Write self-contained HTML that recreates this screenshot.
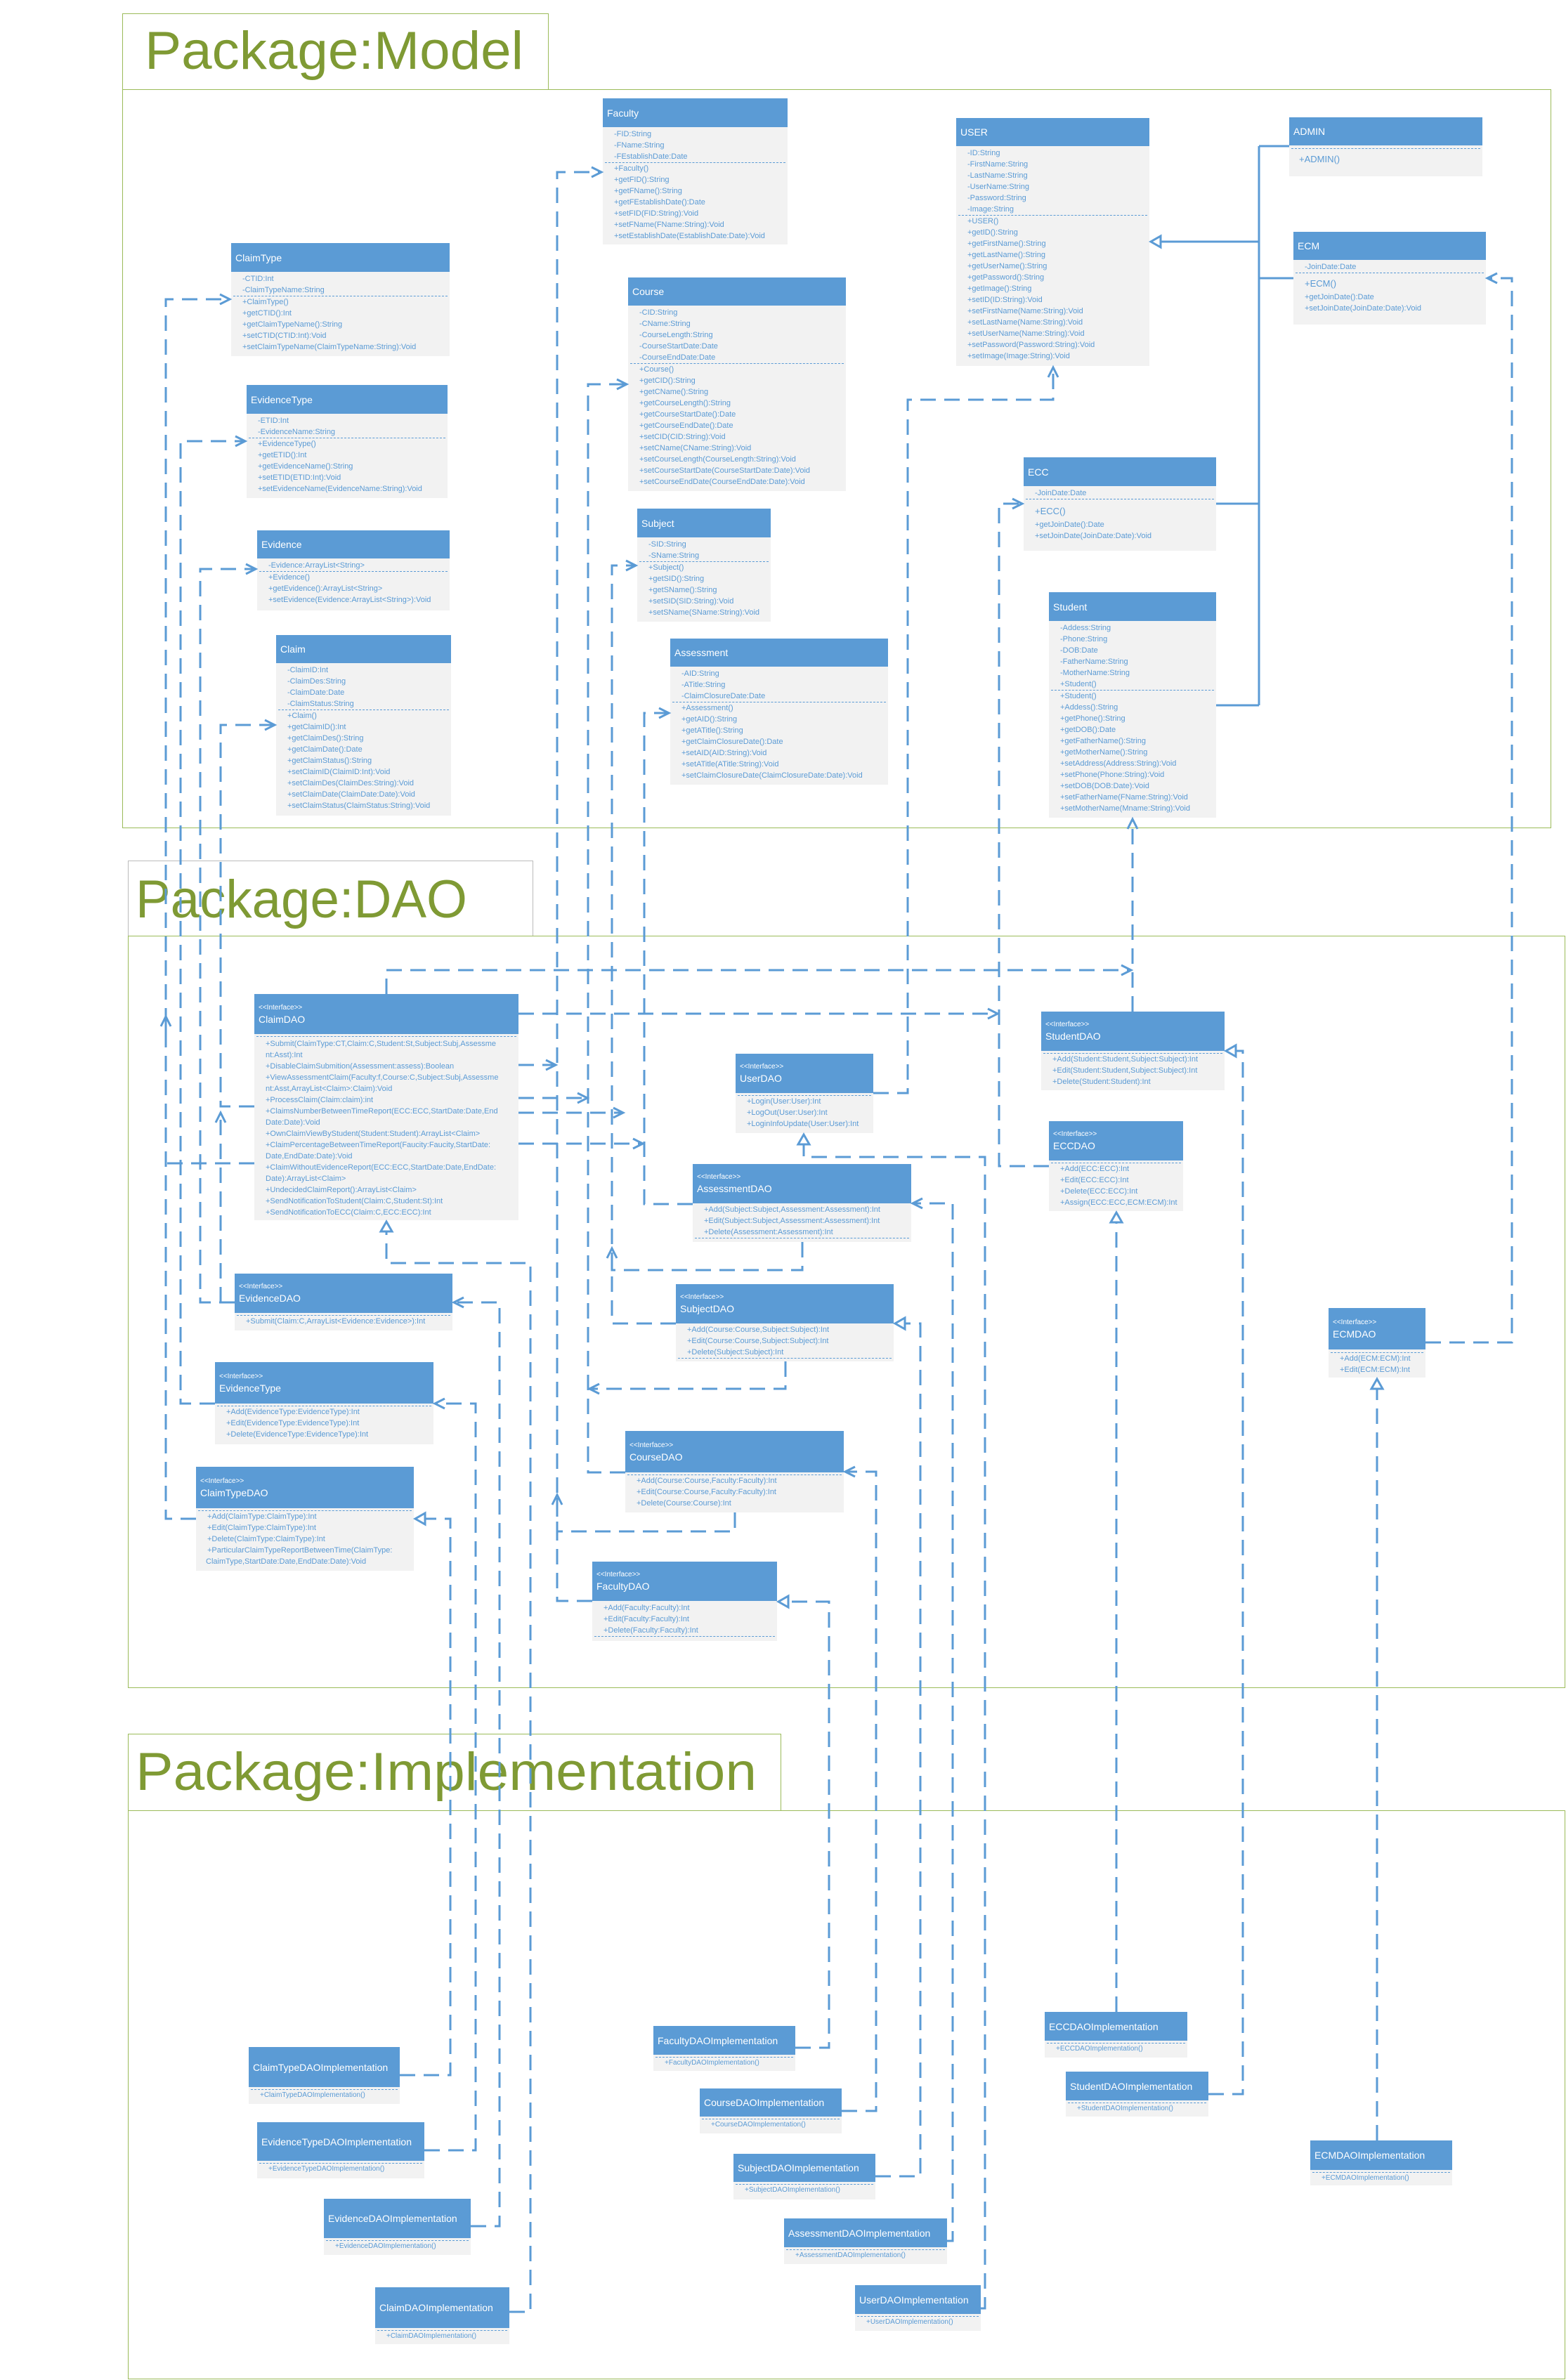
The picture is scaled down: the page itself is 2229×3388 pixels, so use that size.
<!DOCTYPE html>
<html><head><meta charset="utf-8">
<style>
html,body{margin:0;padding:0;background:#fff;}
body{width:2229px;height:3388px;position:relative;overflow:hidden;font-family:"Liberation Sans",sans-serif;}
.pk{position:absolute;border:1.5px solid #9BBB59;box-sizing:border-box;}
.c{position:absolute;background:#F2F2F2;color:#5B9BD5;font-size:11px;box-sizing:border-box;overflow:hidden;}
.h{background:#5B9BD5;color:#fff;font-size:14px;padding:0 6px;box-sizing:border-box;display:flex;flex-direction:column;justify-content:center;}
.h small{font-size:10px;display:block;margin-bottom:3px;}
.b{padding:2px 0 0 0;line-height:16px;white-space:nowrap;}
.b div{padding-left:16px;}
.s{border-top:1px dashed #5B9BD5;margin:0 3px;}
svg{position:absolute;left:0;top:0;}
</style></head><body>

<!-- packages -->
<div class="pk" style="left:174px;top:19px;width:607px;height:109px;"></div>
<div class="pk" style="left:174px;top:127px;width:2034px;height:1052px;"></div>
<div class="pk" style="left:182px;top:1225px;width:577px;height:108px;border-color:#bbb;"></div>
<div class="pk" style="left:182px;top:1332px;width:2046px;height:1071px;"></div>
<div class="pk" style="left:182px;top:2468px;width:930px;height:110px;"></div>
<div class="pk" style="left:182px;top:2577px;width:2046px;height:810px;"></div>

<svg width="2229" height="3388" style="z-index:0">
<text x="206" y="98" font-family="Liberation Sans,sans-serif" font-size="76" fill="#7F9A34" textLength="539" lengthAdjust="spacingAndGlyphs">Package:Model</text>
<text x="193" y="1306" font-family="Liberation Sans,sans-serif" font-size="76" fill="#7F9A34" textLength="472" lengthAdjust="spacingAndGlyphs">Package:DAO</text>
<text x="193" y="2548" font-family="Liberation Sans,sans-serif" font-size="76" fill="#7F9A34" textLength="884" lengthAdjust="spacingAndGlyphs">Package:Implementation</text>
</svg>

<!-- MODEL -->
<div class="c" style="left:858px;top:140px;width:263px;height:208px;"><div class="h" style="height:41px;">Faculty</div><div class="b">
<div>-FID:String</div><div>-FName:String</div><div>-FEstablishDate:Date</div><div class="s"></div>
<div>+Faculty()</div><div>+getFID():String</div><div>+getFName():String</div><div>+getFEstablishDate():Date</div><div>+setFID(FID:String):Void</div><div>+setFName(FName:String):Void</div><div>+setEstablishDate(EstablishDate:Date):Void</div></div></div>

<div class="c" style="left:894px;top:395px;width:310px;height:304px;"><div class="h" style="height:40px;">Course</div><div class="b">
<div>-CID:String</div><div>-CName:String</div><div>-CourseLength:String</div><div>-CourseStartDate:Date</div><div>-CourseEndDate:Date</div><div class="s"></div>
<div>+Course()</div><div>+getCID():String</div><div>+getCName():String</div><div>+getCourseLength():String</div><div>+getCourseStartDate():Date</div><div>+getCourseEndDate():Date</div><div>+setCID(CID:String):Void</div><div>+setCName(CName:String):Void</div><div>+setCourseLength(CourseLength:String):Void</div><div>+setCourseStartDate(CourseStartDate:Date):Void</div><div>+setCourseEndDate(CourseEndDate:Date):Void</div></div></div>

<div class="c" style="left:907px;top:724px;width:190px;height:161px;"><div class="h" style="height:41px;">Subject</div><div class="b">
<div>-SID:String</div><div>-SName:String</div><div class="s"></div>
<div>+Subject()</div><div>+getSID():String</div><div>+getSName():String</div><div>+setSID(SID:String):Void</div><div>+setSName(SName:String):Void</div></div></div>

<div class="c" style="left:954px;top:909px;width:310px;height:208px;"><div class="h" style="height:40px;">Assessment</div><div class="b">
<div>-AID:String</div><div>-ATitle:String</div><div>-ClaimClosureDate:Date</div><div class="s"></div>
<div>+Assessment()</div><div>+getAID():String</div><div>+getATitle():String</div><div>+getClaimClosureDate():Date</div><div>+setAID(AID:String):Void</div><div>+setATitle(ATitle:String):Void</div><div>+setClaimClosureDate(ClaimClosureDate:Date):Void</div></div></div>

<div class="c" style="left:329px;top:346px;width:311px;height:161px;"><div class="h" style="height:41px;">ClaimType</div><div class="b">
<div>-CTID:Int</div><div>-ClaimTypeName:String</div><div class="s"></div>
<div>+ClaimType()</div><div>+getCTID():Int</div><div>+getClaimTypeName():String</div><div>+setCTID(CTID:Int):Void</div><div>+setClaimTypeName(ClaimTypeName:String):Void</div></div></div>

<div class="c" style="left:351px;top:548px;width:286px;height:161px;"><div class="h" style="height:41px;">EvidenceType</div><div class="b">
<div>-ETID:Int</div><div>-EvidenceName:String</div><div class="s"></div>
<div>+EvidenceType()</div><div>+getETID():Int</div><div>+getEvidenceName():String</div><div>+setETID(ETID:Int):Void</div><div>+setEvidenceName(EvidenceName:String):Void</div></div></div>

<div class="c" style="left:366px;top:755px;width:274px;height:114px;"><div class="h" style="height:40px;">Evidence</div><div class="b">
<div>-Evidence:ArrayList&lt;String&gt;</div><div class="s"></div>
<div>+Evidence()</div><div>+getEvidence():ArrayList&lt;String&gt;</div><div>+setEvidence(Evidence:ArrayList&lt;String&gt;):Void</div></div></div>

<div class="c" style="left:393px;top:904px;width:249px;height:257px;"><div class="h" style="height:40px;">Claim</div><div class="b">
<div>-ClaimID:Int</div><div>-ClaimDes:String</div><div>-ClaimDate:Date</div><div>-ClaimStatus:String</div><div class="s"></div>
<div>+Claim()</div><div>+getClaimID():Int</div><div>+getClaimDes():String</div><div>+getClaimDate():Date</div><div>+getClaimStatus():String</div><div>+setClaimID(ClaimID:Int):Void</div><div>+setClaimDes(ClaimDes:String):Void</div><div>+setClaimDate(ClaimDate:Date):Void</div><div>+setClaimStatus(ClaimStatus:String):Void</div></div></div>

<div class="c" style="left:1361px;top:168px;width:275px;height:353px;"><div class="h" style="height:40px;">USER</div><div class="b">
<div>-ID:String</div><div>-FirstName:String</div><div>-LastName:String</div><div>-UserName:String</div><div>-Password:String</div><div>-Image:String</div><div class="s"></div>
<div>+USER()</div><div>+getID():String</div><div>+getFirstName():String</div><div>+getLastName():String</div><div>+getUserName():String</div><div>+getPassword():String</div><div>+getImage():String</div><div>+setID(ID:String):Void</div><div>+setFirstName(Name:String):Void</div><div>+setLastName(Name:String):Void</div><div>+setUserName(Name:String):Void</div><div>+setPassword(Password:String):Void</div><div>+setImage(Image:String):Void</div></div></div>

<div class="c" style="left:1835px;top:167px;width:275px;height:84px;"><div class="h" style="height:40px;">ADMIN</div><div class="b" style="padding-top:4px;">
<div class="s"></div><div style="font-size:13px;line-height:30px;padding-left:14px;">+ADMIN()</div></div></div>

<div class="c" style="left:1841px;top:330px;width:274px;height:132px;"><div class="h" style="height:40px;">ECM</div><div class="b">
<div>-JoinDate:Date</div><div class="s"></div>
<div style="font-size:13px;line-height:22px;padding-top:4px;">+ECM()</div><div>+getJoinDate():Date</div><div>+setJoinDate(JoinDate:Date):Void</div></div></div>

<div class="c" style="left:1457px;top:651px;width:274px;height:133px;"><div class="h" style="height:41px;">ECC</div><div class="b">
<div>-JoinDate:Date</div><div class="s"></div>
<div style="font-size:13px;line-height:22px;padding-top:6px;">+ECC()</div><div>+getJoinDate():Date</div><div>+setJoinDate(JoinDate:Date):Void</div></div></div>

<div class="c" style="left:1493px;top:843px;width:238px;height:321px;"><div class="h" style="height:41px;">Student</div><div class="b">
<div>-Addess:String</div><div>-Phone:String</div><div>-DOB:Date</div><div>-FatherName:String</div><div>-MotherName:String</div><div>+Student()</div><div class="s"></div>
<div>+Student()</div><div>+Addess():String</div><div>+getPhone():String</div><div>+getDOB():Date</div><div>+getFatherName():String</div><div>+getMotherName():String</div><div>+setAddress(Address:String):Void</div><div>+setPhone(Phone:String):Void</div><div>+setDOB(DOB:Date):Void</div><div>+setFatherName(FName:String):Void</div><div>+setMotherName(Mname:String):Void</div></div></div>

<!-- DAO -->
<div class="c" style="left:362px;top:1415px;width:376px;height:322px;"><div class="h" style="height:57px;"><small>&lt;&lt;Interface&gt;&gt;</small>ClaimDAO</div><div class="b" style="padding-top:3px;">
<div class="s" style="margin-bottom:2px;"></div>
<div>+Submit(ClaimType:CT,Claim:C,Student:St,Subject:Subj,Assessme</div><div>nt:Asst):Int</div><div>+DisableClaimSubmition(Assessment:assess):Boolean</div><div>+ViewAssessmentClaim(Faculty:f,Course:C,Subject:Subj,Assessme</div><div>nt:Asst,ArrayList&lt;Claim&gt;:Claim):Void</div><div>+ProcessClaim(Claim:claim):int</div><div>+ClaimsNumberBetweenTimeReport(ECC:ECC,StartDate:Date,End</div><div>Date:Date):Void</div><div>+OwnClaimViewByStudent(Student:Student):ArrayList&lt;Claim&gt;</div><div>+ClaimPercentageBetweenTimeReport(Faucity:Faucity,StartDate:</div><div>Date,EndDate:Date):Void</div><div>+ClaimWithoutEvidenceReport(ECC:ECC,StartDate:Date,EndDate:</div><div>Date):ArrayList&lt;Claim&gt;</div><div>+UndecidedClaimReport():ArrayList&lt;Claim&gt;</div><div>+SendNotificationToStudent(Claim:C,Student:St):Int</div><div>+SendNotificationToECC(Claim:C,ECC:ECC):Int</div></div></div>

<div class="c" style="left:334px;top:1813px;width:310px;height:81px;"><div class="h" style="height:56px;"><small>&lt;&lt;Interface&gt;&gt;</small>EvidenceDAO</div><div class="b" style="padding-top:3px;">
<div class="s"></div><div>+Submit(Claim:C,ArrayList&lt;Evidence:Evidence&gt;):Int</div></div></div>

<div class="c" style="left:306px;top:1939px;width:311px;height:117px;"><div class="h" style="height:59px;"><small>&lt;&lt;Interface&gt;&gt;</small>EvidenceType</div><div class="b" style="padding-top:3px;">
<div class="s"></div><div>+Add(EvidenceType:EvidenceType):Int</div><div>+Edit(EvidenceType:EvidenceType):Int</div><div>+Delete(EvidenceType:EvidenceType):Int</div></div></div>

<div class="c" style="left:279px;top:2088px;width:310px;height:148px;"><div class="h" style="height:59px;"><small>&lt;&lt;Interface&gt;&gt;</small>ClaimTypeDAO</div><div class="b" style="padding-top:3px;">
<div class="s"></div><div>+Add(ClaimType:ClaimType):Int</div><div>+Edit(ClaimType:ClaimType):Int</div><div>+Delete(ClaimType:ClaimType):Int</div><div>+ParticularClaimTypeReportBetweenTime(ClaimType:</div><div style="padding-left:14px;">ClaimType,StartDate:Date,EndDate:Date):Void</div></div></div>

<div class="c" style="left:1047px;top:1500px;width:196px;height:113px;"><div class="h" style="height:56px;"><small>&lt;&lt;Interface&gt;&gt;</small>UserDAO</div><div class="b" style="padding-top:3px;">
<div class="s"></div><div>+Login(User:User):Int</div><div>+LogOut(User:User):Int</div><div>+LoginInfoUpdate(User:User):Int</div></div></div>

<div class="c" style="left:986px;top:1657px;width:311px;height:111px;"><div class="h" style="height:56px;"><small>&lt;&lt;Interface&gt;&gt;</small>AssessmentDAO</div><div class="b" style="padding-top:1px;">
<div>+Add(Subject:Subject,Assessment:Assessment):Int</div><div>+Edit(Subject:Subject,Assessment:Assessment):Int</div><div>+Delete(Assessment:Assessment):Int</div><div class="s"></div></div></div>

<div class="c" style="left:962px;top:1828px;width:310px;height:110px;"><div class="h" style="height:56px;"><small>&lt;&lt;Interface&gt;&gt;</small>SubjectDAO</div><div class="b" style="padding-top:1px;">
<div>+Add(Course:Course,Subject:Subject):Int</div><div>+Edit(Course:Course,Subject:Subject):Int</div><div>+Delete(Subject:Subject):Int</div><div class="s"></div></div></div>

<div class="c" style="left:890px;top:2037px;width:311px;height:116px;"><div class="h" style="height:59px;"><small>&lt;&lt;Interface&gt;&gt;</small>CourseDAO</div><div class="b" style="padding-top:3px;">
<div class="s"></div><div>+Add(Course:Course,Faculty:Faculty):Int</div><div>+Edit(Course:Course,Faculty:Faculty):Int</div><div>+Delete(Course:Course):Int</div></div></div>

<div class="c" style="left:843px;top:2223px;width:263px;height:113px;"><div class="h" style="height:56px;"><small>&lt;&lt;Interface&gt;&gt;</small>FacultyDAO</div><div class="b" style="padding-top:2px;">
<div>+Add(Faculty:Faculty):Int</div><div>+Edit(Faculty:Faculty):Int</div><div>+Delete(Faculty:Faculty):Int</div><div class="s"></div></div></div>

<div class="c" style="left:1482px;top:1440px;width:261px;height:112px;"><div class="h" style="height:56px;"><small>&lt;&lt;Interface&gt;&gt;</small>StudentDAO</div><div class="b" style="padding-top:3px;">
<div class="s"></div><div>+Add(Student:Student,Subject:Subject):Int</div><div>+Edit(Student:Student,Subject:Subject):Int</div><div>+Delete(Student:Student):Int</div></div></div>

<div class="c" style="left:1493px;top:1596px;width:191px;height:128px;"><div class="h" style="height:56px;"><small>&lt;&lt;Interface&gt;&gt;</small>ECCDAO</div><div class="b" style="padding-top:3px;">
<div class="s"></div><div>+Add(ECC:ECC):Int</div><div>+Edit(ECC:ECC):Int</div><div>+Delete(ECC:ECC):Int</div><div>+Assign(ECC:ECC,ECM:ECM):Int</div></div></div>

<div class="c" style="left:1891px;top:1862px;width:138px;height:99px;"><div class="h" style="height:59px;"><small>&lt;&lt;Interface&gt;&gt;</small>ECMDAO</div><div class="b" style="padding-top:4px;">
<div class="s"></div><div>+Add(ECM:ECM):Int</div><div>+Edit(ECM:ECM):Int</div></div></div>

<!-- IMPLEMENTATION -->
<div class="c" style="left:354px;top:2914px;width:215px;height:81px;"><div class="h" style="height:57px;">ClaimTypeDAOImplementation</div><div class="b" style="padding-top:3px;font-size:10px;"><div class="s"></div><div>+ClaimTypeDAOImplementation()</div></div></div>
<div class="c" style="left:366px;top:3021px;width:238px;height:80px;"><div class="h" style="height:55px;">EvidenceTypeDAOImplementation</div><div class="b" style="padding-top:3px;font-size:10px;"><div class="s"></div><div>+EvidenceTypeDAOImplementation()</div></div></div>
<div class="c" style="left:461px;top:3130px;width:209px;height:80px;"><div class="h" style="height:56px;">EvidenceDAOImplementation</div><div class="b" style="padding-top:3px;font-size:10px;"><div class="s"></div><div>+EvidenceDAOImplementation()</div></div></div>
<div class="c" style="left:534px;top:3256px;width:191px;height:81px;"><div class="h" style="height:58px;">ClaimDAOImplementation</div><div class="b" style="padding-top:3px;font-size:10px;"><div class="s"></div><div>+ClaimDAOImplementation()</div></div></div>
<div class="c" style="left:930px;top:2884px;width:202px;height:64px;"><div class="h" style="height:41px;">FacultyDAOImplementation</div><div class="b" style="padding-top:3px;font-size:10px;"><div class="s"></div><div>+FacultyDAOImplementation()</div></div></div>
<div class="c" style="left:996px;top:2973px;width:202px;height:64px;"><div class="h" style="height:40px;">CourseDAOImplementation</div><div class="b" style="padding-top:3px;font-size:10px;"><div class="s"></div><div>+CourseDAOImplementation()</div></div></div>
<div class="c" style="left:1044px;top:3066px;width:202px;height:65px;"><div class="h" style="height:40px;">SubjectDAOImplementation</div><div class="b" style="padding-top:3px;font-size:10px;"><div class="s"></div><div>+SubjectDAOImplementation()</div></div></div>
<div class="c" style="left:1116px;top:3158px;width:232px;height:65px;"><div class="h" style="height:41px;">AssessmentDAOImplementation</div><div class="b" style="padding-top:3px;font-size:10px;"><div class="s"></div><div>+AssessmentDAOImplementation()</div></div></div>
<div class="c" style="left:1217px;top:3253px;width:179px;height:65px;"><div class="h" style="height:41px;">UserDAOImplementation</div><div class="b" style="padding-top:3px;font-size:10px;"><div class="s"></div><div>+UserDAOImplementation()</div></div></div>
<div class="c" style="left:1487px;top:2864px;width:203px;height:65px;"><div class="h" style="height:41px;">ECCDAOImplementation</div><div class="b" style="padding-top:3px;font-size:10px;"><div class="s"></div><div>+ECCDAOImplementation()</div></div></div>
<div class="c" style="left:1517px;top:2949px;width:203px;height:64px;"><div class="h" style="height:41px;">StudentDAOImplementation</div><div class="b" style="padding-top:3px;font-size:10px;"><div class="s"></div><div>+StudentDAOImplementation()</div></div></div>
<div class="c" style="left:1865px;top:3047px;width:202px;height:64px;"><div class="h" style="height:42px;">ECMDAOImplementation</div><div class="b" style="padding-top:3px;font-size:10px;"><div class="s"></div><div>+ECMDAOImplementation()</div></div></div>

<svg width="2229" height="3388" style="z-index:5">
<defs>
<marker id="o" markerUnits="userSpaceOnUse" markerWidth="20" markerHeight="20" refX="16" refY="10" orient="auto"><path d="M2 3 L16 10 L2 17" fill="none" stroke="#5B9BD5" stroke-width="3"/></marker>
<marker id="t" markerUnits="userSpaceOnUse" markerWidth="22" markerHeight="22" refX="18" refY="11" orient="auto"><path d="M4 3 L18 11 L4 19 Z" fill="#fff" stroke="#5B9BD5" stroke-width="3"/></marker>
</defs>
<g fill="none" stroke="#5B9BD5" stroke-width="3">
<!-- generalization -->
<path d="M1792 208 V1004 M1835 208 H1792 M1841 396 H1792 M1731 717 H1792 M1731 1004 H1792"/>
<path d="M1792 344 H1638" marker-end="url(#t)"/>
</g>
<g fill="none" stroke="#5B9BD5" stroke-width="3" stroke-dasharray="22 12">
<path d="M1243 1556 H1292 V569 H1499 V523" marker-end="url(#o)"/>
<path d="M1493 1660 H1422 V717 H1455" marker-end="url(#o)"/>
<path d="M2029 1911 H2152 V396 H2117" marker-end="url(#o)"/>
<path d="M1612 1440 V1166" marker-end="url(#o)"/>
<path d="M550 1415 V1381 H1610" marker-end="url(#o)"/>
<path d="M738 1443 H1420" marker-end="url(#o)"/>
<path d="M843 2279 H793 V245 H856" marker-end="url(#o)"/>
<path d="M890 2096 H837 V547 H892" marker-end="url(#o)"/>
<path d="M962 1884 H871 V805 H905" marker-end="url(#o)"/>
<path d="M986 1714 H917 V1015 H952" marker-end="url(#o)"/>
<path d="M738 1516 H791" marker-end="url(#o)"/>
<path d="M738 1563 H836" marker-end="url(#o)"/>
<path d="M738 1584 H887" marker-end="url(#o)"/>
<path d="M738 1628 H915" marker-end="url(#o)"/>
<path d="M1118 1938 V1977 H839" marker-end="url(#o)"/>
<path d="M1142 1768 V1808 H871 V1777" marker-end="url(#o)"/>
<path d="M1046 2153 V2180 H793 V2128" marker-end="url(#o)"/>
<path d="M279 2162 H236 V426 H327" marker-end="url(#o)"/>
<path d="M306 1998 H257 V628 H349" marker-end="url(#o)"/>
<path d="M334 1854 H285 V810 H364" marker-end="url(#o)"/>
<path d="M362 1575 H314 V1032 H391" marker-end="url(#o)"/>
<path d="M314 1854 V1584" marker-end="url(#o)"/>
<path d="M362 1656 H236"/>
<path d="M236 1470 V1447" marker-end="url(#o)"/>
<!-- implementation -->
<path d="M569 2954 H641 V2162 H591" marker-end="url(#t)"/>
<path d="M604 3061 H677 V1998 H619" marker-end="url(#o)"/>
<path d="M670 3169 H711 V1854 H646" marker-end="url(#o)"/>
<path d="M725 3291 H755 V1798 H550 V1739" marker-end="url(#t)"/>
<path d="M1132 2915 H1180 V2280 H1108" marker-end="url(#t)"/>
<path d="M1198 3005 H1247 V2095 H1203" marker-end="url(#o)"/>
<path d="M1246 3098 H1310 V1884 H1274" marker-end="url(#t)"/>
<path d="M1348 3190 H1356 V1713 H1299" marker-end="url(#o)"/>
<path d="M1396 3286 H1402 V1647 H1144 V1615" marker-end="url(#t)"/>
<path d="M1589 2864 V1726" marker-end="url(#t)"/>
<path d="M1720 2981 H1769 V1496 H1745" marker-end="url(#t)"/>
<path d="M1960 3047 V1963" marker-end="url(#t)"/>
</g>
</svg>
</body></html>
